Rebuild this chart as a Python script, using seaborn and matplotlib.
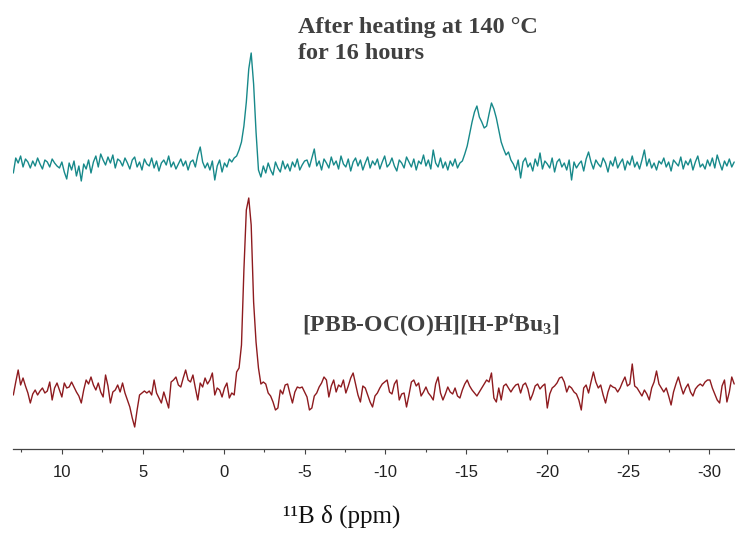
import numpy as np
import pandas as pd
import matplotlib
matplotlib.use("Agg")
import matplotlib.pyplot as plt
import seaborn as sns

# chemical shift grid of the spectra (ppm)
ppm_start = 13.0
ppm_step = 0.15

# heated sample, intensity above its own baseline
teal_int = [
    -9, 6, 1, 8, -3, 5, 2, -4,
    3, -2, 6, 0, -5, 4, 2, -3, 5, 1, -2,
    -4, 2, -8, -15, 1, -6, 3, -12, -2, -17, 0, -5, 4, -9,
    2, 8, -3, 10, 4, -1, 7, 1, 9, -4, 5, 3, -2, 6,
    1, -5, 4, 7, -3, 2, -6, 5, 0, -2, 6, -4, 3, -7, 1, 4, -1, 8, -3, 2, -5, 0, 5, -2, 3, -6, 2,
    4, -3, 9, 17, 2, -4, 1,
    -6, 3, -16, -2, 4, -8, 1, -3, 5, 2, 6,
    8, 14, 22, 38, 62, 95, 111, 80, 32, -6, -13,
    -2, -9, 1, -6, -11, 2, -4, -8, 3, -5, 0, -7, 2, -3, 5, -6, -1, 3,
    4, -3, 6, 15, -2, 3, -6, 5, 1, -4,
    7, -1, 3, -5, 8, 0, -3, 5, -7, 2,
    6, -2, 4, -6, 1, 7, -4, 3, -1, 5,
    -5, 2, 8, -3, 0, 6, -2, -7, 4, 1,
    -4, 7, 2, -3, 5, -6, 3, 0, 9, -2,
    4, -5, 14, 1, -3, 6, -4, 2, -6, 3,
    -2, 5, -4, 1,
    3, 10, 18, 30, 42, 52, 58, 47, 42, 36, 38, 50, 61, 55, 46, 34, 22, 15, 9, 12, 4, 0,
    -6, 4, -14, 2, 6, -3, 1, -7, 5, -2,
    11, -5, 3, 0, -4, 6, -8, 2, 5, -3,
    1, -6, 4, -16, 2, -4, 0, 3, -7, 5,
    12, 2, -5, 4, 0, -3, 6, 1, -8, 3,
    -2, 7, -4, 1, 5, -6, 3, -1, 8, -3,
    2, -5, 4, 14, -2, 5, -4, 1, -6, 3,
    0, 6, -3, 2, -7, 4, 1, -2, 7, -5,
    3, -1, 5, -6, 2, 8, -3, 0, -5, 4,
    -2, 6, -4, 9, 1, -6, 3, -2, 5, -3, 2,
]

# starting salt, intensity above its own baseline
red_int = [
    -5, 8, 20, 5, 12, 4, -3, -13, -4, 0,
    -5, -1, 2, -3, -1, 8, -10, 2, 7, 0,
    -7, 7, 2, 3, 8, 3, -2, -6, -13, 0,
    10, 6, 13, 5, 0, 7, -2, -7, 15, 4,
    -13, -2, 0, 5, -2, 7, -3, -10, -17, -28,
    -37, -20, -5, -3, -1, -3, -1, -5, 10, -3,
    -8, -13, -2, -10, -18, 8, 10, 13, 5, 3,
    12, 20, 10, 8, 15, 2, -10, 7, 3, 12,
    6, 10, 17, -5, 2, 0, -7, 2, 7, -8,
    -3, -5, 18, 22, 45, 120, 180, 192, 165, 88,
    48, 22, 6, 8, 6, -3, -6, -12, -20, -18,
    0, -4, 5, 6, -4, -13, -2, 3, 2, 3,
    -2, -7, -20, -18, -6, -3, 3, 7, 13, 10,
    -7, 4, 10, -2, 5, 3, 10, -3, 4, 12,
    17, 6, -5, -12, 4, 2, -5, -12, -17, -6,
    -3, 2, 6, 8, 10, -2, -4, 6, 10, -10,
    -4, -3, -17, -5, 8, 10, 4, 7, -6, -2,
    3, -3, -6, -10, 6, 13, -3, -10, -4, 3,
    -2, -4, 2, -6, -8, 0, 6, 10, 4, 0,
    -3, -6, -2, 2, 6, 10, 8, 17, -8, -12,
    2, -10, 4, 6, 2, -2, 2, 5, 6, -3,
    5, 7, 1, -10, -4, 4, 6, 1, 4, 6,
    -18, -4, 2, 4, 7, 12, 13, 8, -2, 4,
    2, -2, -4, -10, -20, 2, 5, -3, 8, 18,
    8, 2, 5, -5, -13, -2, 5, 3, 2, -2,
    2, 8, 13, 4, 6, 26, 4, 2, -2, -6,
    0, -4, -10, 2, 8, 19, 6, 2, -2, 2,
    -6, -15, -2, 6, 13, 4, -4, 2, 6, -2,
    -6, 1, 4, 6, 4, 8, 10, 10, 2, -4,
    -10, -13, 4, 10, -12, -2, 13, 6,
]

tick_values = [10, 5, 0, -5, -10, -15, -20, -25, -30]

sns.set_style("white")
plt.rcParams["axes.unicode_minus"] = False
plt.rcParams["mathtext.fontset"] = "custom"
plt.rcParams["mathtext.rm"] = "Liberation Serif:bold"
plt.rcParams["mathtext.it"] = "Liberation Serif:italic:bold"

W, H = 735, 540
fig = plt.figure(figsize=(W / 100, H / 100), dpi=100)
ax = fig.add_axes([13 / W, 1 - 449 / H, 722 / W, 449 / H])

teal_df = pd.DataFrame({"ppm": ppm_start - ppm_step * np.arange(len(teal_int)),
                        "y": np.array(teal_int) + 285, "trace": "heated"})
red_df = pd.DataFrame({"ppm": ppm_start - ppm_step * np.arange(len(red_int)),
                       "y": np.array(red_int) + 59, "trace": "start"})
df = pd.concat([teal_df, red_df], ignore_index=True)

sns.lineplot(data=df, x="ppm", y="y", hue="trace",
             palette={"heated": "#17898a", "start": "#8e1b1f"},
             estimator=None, sort=False, linewidth=1.0, legend=False, ax=ax)

ax.set_xlim(13.02, -31.6)
ax.set_ylim(0, 449)
for s in ["left", "right", "top"]:
    ax.spines[s].set_visible(False)
ax.spines["bottom"].set_color("#444444")
ax.spines["bottom"].set_linewidth(0.9)
ax.set_yticks([])
ax.set_xticks(tick_values)
ax.set_xticklabels([str(v) for v in tick_values], fontfamily="Liberation Sans",
                   fontsize=12, color="#222222")
ax.set_xticks(np.arange(12.5, -31.6, -2.5), minor=True)
ax.tick_params(axis="x", which="major", direction="out", length=3.5, width=0.8,
               color="#444444", pad=8, bottom=True)
ax.tick_params(axis="x", which="minor", direction="out", length=2.2, width=0.8,
               color="#444444", bottom=True)
ax.set_xlabel("")
ax.set_ylabel("")

serif = "Liberation Serif"
fig.text(298 / W, 1 - 33 / H, "After heating at 140 °C", fontfamily=serif,
         fontweight="bold", fontsize=17.5, color="#404040", va="baseline")
fig.text(298 / W, 1 - 59 / H, "for 16 hours", fontfamily=serif,
         fontweight="bold", fontsize=17.5, color="#404040", va="baseline")
fig.text(302 / W, 1 - 332 / H, "[PBB-OC(O)H][H-P$^{t}$Bu$_{3}$]", fontfamily=serif,
         fontweight="bold", fontsize=17, color="#404040", va="baseline")
fig.text(283 / W, 1 - 523 / H, "¹¹B δ (ppm)", fontfamily=serif,
         fontsize=18, color="#111111", va="baseline")

fig.savefig("out.png", dpi=100)
